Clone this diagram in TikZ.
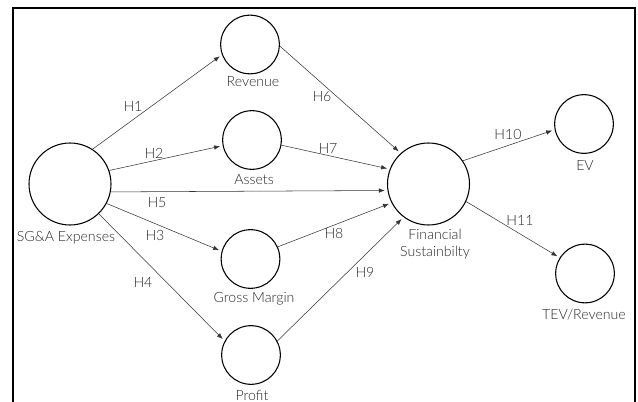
\documentclass[tikz,border=0pt]{standalone}
\usepackage{fontspec}
\setmainfont{Lato Light}
\usetikzlibrary{arrows.meta}
\begin{document}
\begin{tikzpicture}[x=0.75pt,y=-0.75pt,
  latent/.style={circle,draw=black,line width=0.8pt,inner sep=0pt},
  big/.style={latent,minimum size=61.5pt},
  small/.style={latent,minimum size=44pt},
  lbl/.style={font=\fontsize{10.6}{13}\selectfont,text=black!85,inner sep=0pt,align=center},
  hyp/.style={font=\fontsize{10.6}{13}\selectfont,text=black!85,inner sep=0pt},
  arr/.style={draw=black!80,line width=0.4pt,-{Latex[length=4.5pt,width=3.4pt]},shorten >=2pt}]
\useasboundingbox (0,0) rectangle (638,402);
\coordinate (fbl) at (13,402);
\coordinate (ftl) at (13,8);
\coordinate (ftr) at (635,8);
\coordinate (fbr) at (635,402);
\draw[line width=0.8pt] (fbl) -- (ftl) -- (ftr) -- (fbr);

\node[big] (sga) at (70,184) {};
\node[small] (rev) at (250,44.5) {};
\node[small] (ast) at (252,140) {};
\node[small] (gm) at (250.5,259) {};
\node[small] (pro) at (251,355) {};
\node[big] (fs) at (428.5,184) {};
\node[small] (ev) at (584,124) {};
\node[small] (tev) at (585,273.5) {};

\node[lbl] (tsga) at (66,238) {SG\&A Expenses};
\node[lbl] (trev) at (253,82) {Revenue};
\node[lbl] (tast) at (254,180) {Assets};
\node[lbl] (tgm) at (254,299) {Gross Margin};
\node[lbl] (tpro) at (252,395) {Profit};
\node[lbl] (tfs) at (435,244) {Financial\\Sustainbilty};
\node[lbl] (tev1) at (585,166) {EV};
\node[lbl] (ttev) at (584,315) {TEV/Revenue};

\draw[arr] (sga.57) -- (rev.200);
\draw[arr] (sga.19) -- (ast.191);
\draw[arr] (sga.-11) -- (fs.189);
\draw[arr] (sga.-28) -- (gm.165);
\draw[arr] (sga.-46) -- (pro.152);
\draw[arr] (rev.-3) -- (fs.132);
\draw[arr] (ast.-10) -- (fs.159);
\draw[arr] (gm.24) -- (fs.207);
\draw[arr] (pro.28) -- (fs.233);
\draw[arr] (fs.34) -- (ev.191);
\draw[arr] (fs.-25) -- (tev.148);

\node[hyp] (h1) at (133,106) {H1};
\node[hyp] (h2) at (154,153) {H2};
\node[hyp] (h5) at (157,203) {H5};
\node[hyp] (h3) at (155,236) {H3};
\node[hyp] (h4) at (143,282) {H4};
\node[hyp] (h6) at (322,97) {H6};
\node[hyp] (h7) at (328,149) {H7};
\node[hyp] (h8) at (334,234) {H8};
\node[hyp] (h9) at (365,272) {H9};
\node[hyp] (h10) at (508,135) {H10};
\node[hyp] (h11) at (520,220) {H11};
\end{tikzpicture}
\end{document}
